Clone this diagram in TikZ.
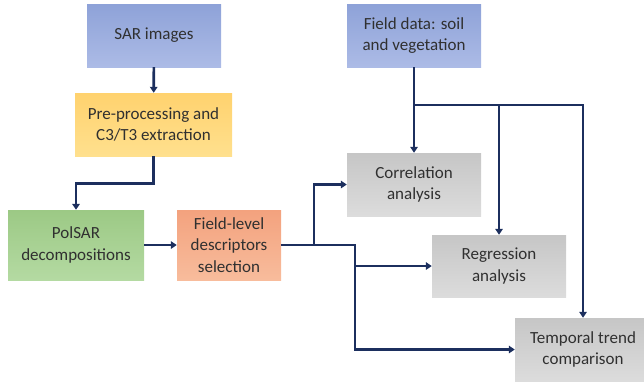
\documentclass[tikz,border=0pt]{standalone}
\usepackage{fontspec}
\setmainfont{Carlito}
\usetikzlibrary{arrows.meta}

\definecolor{sarTop}{HTML}{8EA2D8}
\definecolor{sarBot}{HTML}{ACBBE6}
\definecolor{preTop}{HTML}{FFD26E}
\definecolor{preBot}{HTML}{FFE08E}
\definecolor{polTop}{HTML}{9CC985}
\definecolor{polBot}{HTML}{B4DAA2}
\definecolor{selTop}{HTML}{F3A27E}
\definecolor{selBot}{HTML}{F8BC9C}
\definecolor{anaTop}{HTML}{C6C6C6}
\definecolor{anaBot}{HTML}{DCDCDC}
\definecolor{flowLine}{HTML}{1C2F5E}
\definecolor{txt}{HTML}{303030}

\tikzset{
    box/.style={rectangle, align=center, text=txt, inner sep=2pt,
        font=\fontsize{17}{21.5}\selectfont},
    flow/.style={draw=flowLine, line width=2.6pt,
        -{Triangle[length=6pt,width=7.5pt]}}
}

\begin{document}
\begin{tikzpicture}[x=1pt, y=-1pt]
    \useasboundingbox (0,0) rectangle (644,386);

        % left column
        \node[box, top color=sarTop, bottom color=sarBot, minimum width=134pt, minimum height=63pt]
            (sar) at (154,35.5) {SAR images};
        \node[box, top color=preTop, bottom color=preBot, minimum width=157pt, minimum height=63pt]
            (prep) at (153.5,124.5) {Pre-processing and\\C3/T3 extraction};
        \node[box, top color=polTop, bottom color=polBot, minimum width=136pt, minimum height=70pt]
            (polsar) at (76,245) {PolSAR\\decompositions};
        \node[box, top color=selTop, bottom color=selBot, minimum width=104pt, minimum height=70pt]
            (select) at (229,245) {Field-level\\descriptors\\selection};

        % right column
        \node[box, top color=sarTop, bottom color=sarBot, minimum width=134pt, minimum height=63pt]
            (field) at (414,35.5) {Field data: soil\\and vegetation};
        \node[box, top color=anaTop, bottom color=anaBot, minimum width=134pt, minimum height=63pt]
            (corr) at (414,184.5) {Correlation\\analysis};
        \node[box, top color=anaTop, bottom color=anaBot, minimum width=134pt, minimum height=62pt]
            (regr) at (499,266) {Regression\\analysis};
        \node[box, top color=anaTop, bottom color=anaBot, minimum width=136pt, minimum height=63pt]
            (trend) at (583,349.5) {Temporal trend\\comparison};

        % junction points
        \coordinate (J1) at (314,245);
        \coordinate (J2) at (355,245);
        \coordinate (J3) at (414,105);

        % connectors
        \draw[flow] (sar) -- (prep);
        \draw[flow] (prep.south) -- ++(0,27) -| (polsar.north);
        \draw[flow] (polsar) -- (select);
        \draw[flow] (select.east) -- (J1) |- (corr.west);
        \draw[flow] (J1) -- (J2) |- (trend.west);
        \draw[flow] (J2 |- regr.west) -- (regr.west);

        \draw[flow] (field) -- (corr);
        \draw[flow] (J3) -| (trend.north);
        \draw[flow] (J3 -| regr.north) -- (regr.north);

\end{tikzpicture}
\end{document}
